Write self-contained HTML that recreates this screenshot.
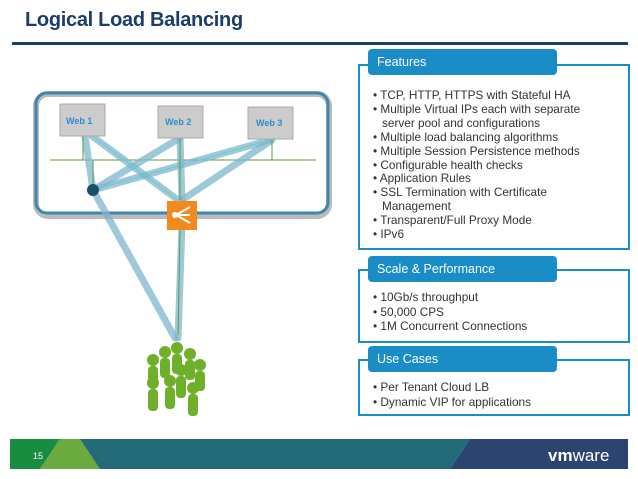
<!DOCTYPE html>
<html><head><meta charset="utf-8"><style>
body{margin:0;width:638px;height:479px;background:#fff;position:relative;overflow:hidden;font-family:"Liberation Sans",sans-serif}
.t{position:absolute;left:25px;top:9px;font-size:20px;font-weight:bold;color:#1b3d6b;letter-spacing:-0.3px}
.rule{position:absolute;left:12px;top:42px;width:616px;height:3px;background:#173f6b}
.box{position:absolute;border:2px solid #1a8dc6;background:#fff}
.hd{position:absolute;background:#1a8dc6;color:#fff;font-size:12.5px;border-radius:4px;padding-left:9px;box-sizing:border-box;line-height:26px}
ul{margin:0;padding:0;list-style:none;position:absolute;font-size:11.8px;color:#333;line-height:14.7px}
li{padding-left:9px;text-indent:-9px}
</style></head><body>
<div class="t">Logical Load Balancing</div>
<div class="rule"></div>

<div class="box" style="left:358px;top:64px;width:268px;height:182px"></div>
<div class="hd" style="left:368px;top:49px;width:189px;height:26px">Features</div>
<ul style="left:373px;top:89px;width:238px;line-height:13.9px">
<li>• TCP, HTTP, HTTPS with Stateful HA</li>
<li>• Multiple Virtual IPs each with separate server pool and configurations</li>
<li>• Multiple load balancing algorithms</li>
<li>• Multiple Session Persistence methods</li>
<li>• Configurable health checks</li>
<li>• Application Rules</li>
<li>• SSL Termination with Certificate Management</li>
<li>• Transparent/Full Proxy Mode</li>
<li>• IPv6</li>
</ul>

<div class="box" style="left:358px;top:269px;width:268px;height:70px"></div>
<div class="hd" style="left:368px;top:256px;width:189px;height:26px">Scale &amp; Performance</div>
<ul style="left:373px;top:290px;width:250px">
<li>• 10Gb/s throughput</li><li>• 50,000 CPS</li><li>• 1M Concurrent Connections</li>
</ul>

<div class="box" style="left:358px;top:359px;width:268px;height:53px"></div>
<div class="hd" style="left:368px;top:346px;width:189px;height:26px">Use Cases</div>
<ul style="left:373px;top:380px;width:250px">
<li>• Per Tenant Cloud LB</li><li>• Dynamic VIP for applications</li>
</ul>

<svg style="position:absolute;left:0;top:0" width="638" height="479">
<rect x="36" y="94" width="293" height="122" rx="12" fill="none" stroke="#bbb" stroke-width="6"/>
<rect x="36" y="93" width="292" height="120" rx="11" fill="none" stroke="#3d86ad" stroke-width="3"/>
<line x1="50" y1="160" x2="316" y2="160" stroke="#5a9e3a" stroke-width="1"/>
<g stroke="#7fb6cf" stroke-width="7" stroke-opacity="0.75" stroke-linecap="round">
<line x1="85" y1="136" x2="93" y2="190"/>
<line x1="92" y1="136" x2="178" y2="200"/>
<line x1="180" y1="138" x2="93" y2="190"/>
<line x1="270" y1="140" x2="93" y2="190"/>
<line x1="272" y1="140" x2="182" y2="200"/>
<line x1="180" y1="138" x2="182" y2="200"/>
<line x1="93" y1="190" x2="175" y2="338"/>
<line x1="182" y1="225" x2="178" y2="338"/>
</g>
<g stroke="#6cc" stroke-width="1"><line x1="93" y1="190" x2="270" y2="140"/><line x1="92" y1="136" x2="178" y2="200"/></g>
<g stroke="#5a9e3a" stroke-width="1"><line x1="83" y1="136" x2="83" y2="160"/><line x1="180" y1="138" x2="180" y2="200"/><line x1="272" y1="140" x2="272" y2="160"/><line x1="93" y1="160" x2="93" y2="190"/><line x1="180" y1="230" x2="178" y2="335"/></g>
<circle cx="93" cy="190" r="6" fill="#1d4e6a"/>
<g font-size="9" font-weight="bold" fill="#2a8fc9">
<rect x="60" y="104" width="45" height="32" fill="#ccc" stroke="#aaa"/><text x="66" y="124">Web 1</text>
<rect x="158" y="106" width="45" height="32" fill="#ccc" stroke="#aaa"/><text x="165" y="125">Web 2</text>
<rect x="248" y="107" width="45" height="32" fill="#ccc" stroke="#aaa"/><text x="256" y="126">Web 3</text>
</g>
<rect x="167" y="201" width="30" height="29" fill="#f28a1e"/>
<g stroke="#fff" stroke-width="2" fill="none"><path d="M176 215 L190 207 M176 215 L190 215 M176 215 L190 223"/></g>
<circle cx="175" cy="215" r="3" fill="#fff"/>
<g fill="#6fb02a">
<circle cx="153" cy="360" r="6"/><rect x="148" y="366" width="10" height="20" rx="4"/>
<circle cx="165" cy="352" r="6"/><rect x="160" y="358" width="10" height="20" rx="4"/>
<circle cx="177" cy="348" r="6"/><rect x="172" y="354" width="10" height="20" rx="4"/>
<circle cx="190" cy="354" r="6"/><rect x="185" y="360" width="10" height="20" rx="4"/>
<circle cx="200" cy="365" r="6"/><rect x="195" y="371" width="10" height="20" rx="4"/>
<circle cx="153" cy="383" r="6"/><rect x="148" y="389" width="10" height="22" rx="4"/>
<circle cx="170" cy="381" r="6"/><rect x="165" y="387" width="10" height="22" rx="4"/>
<circle cx="181" cy="370" r="6"/><rect x="176" y="376" width="10" height="22" rx="4"/>
<circle cx="193" cy="388" r="6"/><rect x="188" y="394" width="10" height="22" rx="4"/>
</g>
<polygon points="10,439 60,439 40,469 10,469" fill="#188c3f"/>
<polygon points="60,439 80,439 100,469 40,469" fill="#6aaa3f"/>
<polygon points="80,439 470,439 450,469 100,469" fill="#226a78"/>
<polygon points="470,439 628,439 628,469 450,469" fill="#2c4470"/>
<text x="33" y="459" font-size="9" fill="#fff">15</text>
<text x="548" y="461" font-size="17" fill="#fff"><tspan font-weight="bold">vm</tspan>ware</text>
</svg>
</body></html>
